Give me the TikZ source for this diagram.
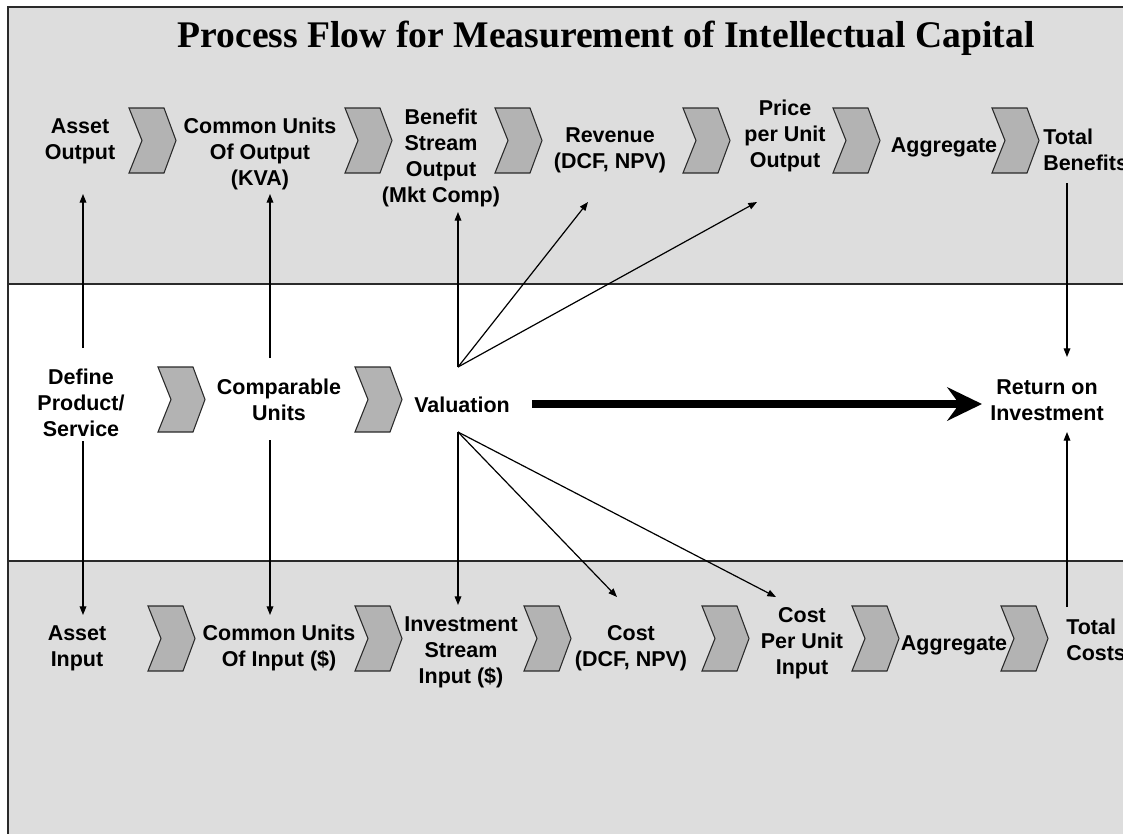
\documentclass[tikz,border=0pt]{standalone}
\usepackage{fontspec}
\setmainfont{Liberation Sans}
\newfontfamily\titlefont{Liberation Serif}
\usetikzlibrary{arrows.meta}
\definecolor{bandgray}{HTML}{DDDDDD}
\definecolor{chevgray}{HTML}{B3B3B3}
\definecolor{edgegray}{HTML}{2A2A2A}
\tikzset{
  lbl/.style={font=\fontsize{16.1}{19.5}\selectfont\bfseries, align=center, inner sep=0pt},
  lblleft/.style={lbl, align=left, anchor=west},
  conn/.style={draw=black, line width=0.9pt, -{Triangle[length=6.5pt,width=5pt]}},
  bigarrow/.style={draw=black, line width=5.4pt, -{Stealth[length=26pt,width=25pt,inset=9pt]}},
  chev/.pic={\filldraw[fill=chevgray, draw=edgegray, line width=0.8pt]
     (0,0) -- (35,0) -- (47,32.5) -- (35,65) -- (0,65) -- (13,32.5) -- cycle;}
}
\begin{document}
\begin{tikzpicture}[x=0.75pt,y=-0.75pt]
\useasboundingbox (0,0) rectangle (1123,833);
\clip (0,0) rectangle (1123,833);
\fill[white] (0,0) rectangle (1123,833);
% bands
\fill[bandgray] (8,7) rectangle (1140,284);
\fill[bandgray] (8,561) rectangle (1140,850);
\draw[edgegray, line width=1.3pt] (1140,7) -- (8,7) -- (8,850);
\draw[edgegray, line width=1.3pt] (8,284) -- (1140,284);
\draw[edgegray, line width=1.3pt] (8,561) -- (1140,561);

% title
\node[inner sep=0pt, font=\titlefont\fontsize{28.2}{32}\selectfont\bfseries] (title) at (606,38)
  {Process Flow for Measurement of Intellectual Capital};

% chevrons
\foreach \cx in {129,345,495,683,833,992} \pic at (\cx,108) {chev};
\foreach \cx in {158,355} \pic at (\cx,367) {chev};
\foreach \cx in {148,355,524,702,852,1001} \pic at (\cx,606) {chev};

% benefit row
\node[lbl] (ao)   at (80,141)  {Asset\\Output};
\node[lbl] (cuo)  at (260,154) {Common Units\\Of Output\\(KVA)};
\node[lbl] (bso)  at (441,158) {Benefit\\Stream\\Output\\(Mkt Comp)};
\node[lbl] (rev)  at (610,150) {Revenue\\(DCF, NPV)};
\node[lbl] (ppu)  at (785,136) {Price\\per Unit\\Output};
\node[lbl] (agg1) at (944,147) {Aggregate};
\node[lblleft] (tb) at (1043,150) {Total\\Benefits};

% middle row
\node[lbl] (def) at (81,403)   {Define\\Product/\\Service};
\node[lbl] (cmp) at (279,400)  {Comparable\\Units};
\node[lbl] (val) at (462,405)  {Valuation};
\node[lbl] (roi) at (1047,400) {Return on\\Investment};

% cost row
\node[lbl] (ai)   at (77,648)  {Asset\\Input};
\node[lbl] (cui)  at (279,648) {Common Units\\Of Input (\$)};
\node[lbl] (isi)  at (461,652) {Investment\\Stream\\Input (\$)};
\node[lbl] (cost) at (631,648) {Cost\\(DCF, NPV)};
\node[lbl] (cpu)  at (802,643) {Cost\\Per Unit\\Input};
\node[lbl] (agg2) at (954,645) {Aggregate};
\node[lblleft] (tc) at (1066,640) {Total\\Costs};

% connector end points
\coordinate (def-up) at (83,348);
\coordinate (def-dn) at (83,441);
\coordinate (ao-in)  at (83,194);
\coordinate (ai-in)  at (83,615);
\coordinate (cmp-up) at (270,358);
\coordinate (cmp-dn) at (270,440);
\coordinate (cuo-in) at (270,194);
\coordinate (cui-in) at (270,615);
\coordinate (val-up) at (458,367);
\coordinate (val-dn) at (458,432);
\coordinate (bso-in) at (458,212);
\coordinate (rev-in) at (588,202);
\coordinate (ppu-in) at (757,202);
\coordinate (isi-in) at (458,605);
\coordinate (cost-in) at (617,597);
\coordinate (cpu-in) at (776,597);
\coordinate (tb-out) at (1067,183);
\coordinate (tc-out) at (1067,607);
\coordinate (roi-top) at (1067,357);
\coordinate (roi-bot) at (1067,432);
\coordinate (big-start) at (532,404);
\coordinate (big-end) at (982,404);

% connectors
\draw[conn] (def-up) -- (ao-in);
\draw[conn] (def-dn) -- (ai-in);
\draw[conn] (cmp-up) -- (cuo-in);
\draw[conn] (cmp-dn) -- (cui-in);
\draw[conn] (val-up) -- (bso-in);
\draw[conn] (val-up) -- (rev-in);
\draw[conn] (val-up) -- (ppu-in);
\draw[conn] (val-dn) -- (isi-in);
\draw[conn] (val-dn) -- (cost-in);
\draw[conn] (val-dn) -- (cpu-in);
\draw[conn] (tb-out) -- (roi-top);
\draw[conn] (tc-out) -- (roi-bot);
\draw[bigarrow] (big-start) -- (big-end);
\end{tikzpicture}
\end{document}
